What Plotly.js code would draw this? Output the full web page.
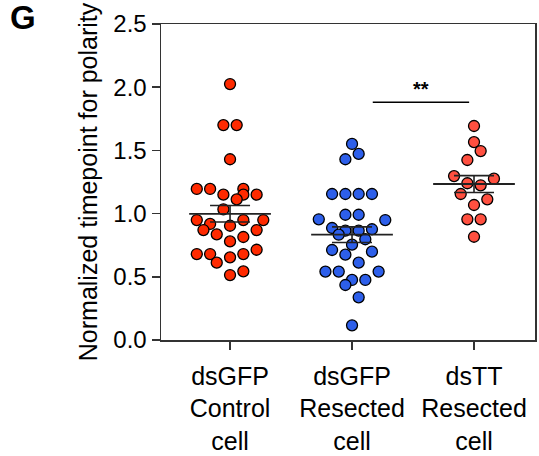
<!DOCTYPE html>
<html>
<head>
<meta charset="utf-8">
<script src="https://cdn.plot.ly/plotly-3.0.1.min.js"></script>
<style>html,body{margin:0;padding:0;background:#fff;}#chart{width:539px;height:456px;}</style>
</head>
<body>
<div id="chart"></div>
<script>
// Category labels
const categories = ["dsGFP<br>Control<br>cell", "dsGFP<br>Resected<br>cell", "dsTT<br>Resected<br>cell"];

// Values (normalized timepoint for polarity)
const controlValues = [2.025, 1.70, 1.70, 1.43, 1.195, 1.195, 1.195, 1.15, 1.15, 1.15, 1.113, 1.034,
  0.949, 0.949, 0.949, 0.918, 0.904, 0.87, 0.87, 0.836, 0.815, 0.78, 0.714, 0.68, 0.68, 0.68,
  0.654, 0.612, 0.543, 0.514];
// beeswarm slot of each point (in point widths)
const controlSlots = [0, -0.5, 0.5, 0, -2.5, -1.5, 1, -0.5, 1, 2, 0.5, -0.5,
  -2.5, 1, 2.5, -1.5, 0, -2, 2, -1, 1, 0, 2, -2.5, -1.5, 1,
  0, -1, 1, 0];

const resectedValues = [1.551, 1.472, 1.43, 1.155, 1.155, 1.155, 1.155, 0.991, 0.991, 0.955, 0.949,
  0.886, 0.865, 0.865, 0.876, 0.833, 0.797, 0.754, 0.712, 0.675, 0.699, 0.612, 0.541, 0.541, 0.541,
  0.475, 0.475, 0.435, 0.338, 0.116];
const resectedSlots = [0, 0.5, -0.5, -1.5, -0.5, 0.5, 1.5, -0.5, 0.5, -2.5, 2.5,
  -1.5, -0.5, 0.5, 1.5, -1, 1, 0, -1.5, -0.5, 1.5, 0.5, -2, -1, 2,
  0, 1, -0.5, 0.5, 0];

const ttValues = [1.693, 1.566, 1.495, 1.424, 1.297, 1.276, 1.24, 1.224, 1.155, 1.113, 1.068, 0.955, 0.955, 0.817];
const ttSlots = [0, 0, 0.5, -0.5, -1.5, 1.5, -0.5, 0.5, -1, 1, 0, -0.5, 0.5, 0];

const significance = "**";

const groups = [
  {vals: controlValues, slots: controlSlots, color: "#FF2A00"},
  {vals: resectedValues, slots: resectedSlots, color: "#2D5FEA"},
  {vals: ttValues, slots: ttSlots, color: "#FF5040"}
];

const slotWidth = 0.109;
const meanHalf = 0.335;
const traces = [];
groups.forEach((g, i) => {
  traces.push({
    type: "scatter", mode: "markers",
    x: g.slots.map(s => i + s * slotWidth), y: g.vals,
    marker: {size: 11, color: g.color, line: {color: "#000", width: 1.3}},
    hoverinfo: "y", showlegend: false
  });
});
groups.forEach((g, i) => {
  const n = g.vals.length;
  const mean = g.vals.reduce((a, b) => a + b, 0) / n;
  const sd = Math.sqrt(g.vals.reduce((a, b) => a + (b - mean) ** 2, 0) / (n - 1));
  const sem = sd / Math.sqrt(n);
  traces.push({
    type: "scatter", mode: "lines",
    x: [i - meanHalf, i + meanHalf], y: [mean, mean],
    line: {color: "#222", width: 1.8}, hoverinfo: "skip", showlegend: false
  });
  traces.push({
    type: "scatter", mode: "markers",
    x: [i], y: [mean],
    marker: {size: 1, color: "rgba(0,0,0,0)"},
    error_y: {type: "data", array: [sem], visible: true, color: "#222", thickness: 1.6, width: 20},
    hoverinfo: "skip", showlegend: false
  });
});

const font = "Liberation Sans, Arial, sans-serif";
const layout = {
  width: 539, height: 456,
  margin: {l: 161, r: 4, t: 24, b: 116},
  paper_bgcolor: "#fff", plot_bgcolor: "#fff",
  font: {family: font, color: "#000", size: 24},
  xaxis: {
    range: [-0.566, 2.5], tickvals: [0, 1, 2], ticktext: categories,
    showgrid: false, zeroline: false, showline: true, mirror: true,
    linecolor: "#333", linewidth: 1.5,
    ticks: "outside", ticklen: 8, tickwidth: 1.5, tickcolor: "#333",
    tickfont: {size: 25, family: font}, ticklabelstandoff: 5
  },
  yaxis: {
    range: [0, 2.5], tickvals: [0, 0.5, 1, 1.5, 2, 2.5],
    ticktext: ["0.0", "0.5", "1.0", "1.5", "2.0", "2.5"],
    showgrid: false, zeroline: false, showline: true, mirror: true,
    linecolor: "#333", linewidth: 1.5,
    ticks: "outside", ticklen: 8, tickwidth: 1.5, tickcolor: "#333",
    tickfont: {size: 24, family: font},
    title: {text: "Normalized timepoint for polarity", font: {size: 25, family: font}, standoff: 8}
  },
  shapes: [
    {type: "line", xref: "x", yref: "y", x0: 1.17, x1: 1.96, y0: 1.88, y1: 1.88, line: {color: "#000", width: 1.5}}
  ],
  annotations: [
    {xref: "x", yref: "y", x: 1.565, y: 1.88, yanchor: "bottom", yshift: 0, text: "<b>" + significance + "</b>", showarrow: false, font: {size: 20, family: font}},
    {xref: "paper", yref: "paper", x: -0.41, y: 1.085, xanchor: "left", yanchor: "top", text: "<b>G</b>", showarrow: false, font: {size: 33, family: font}}
  ]
};
Plotly.newPlot("chart", traces, layout, {displayModeBar: false, staticPlot: true});
</script>
</body>
</html>
